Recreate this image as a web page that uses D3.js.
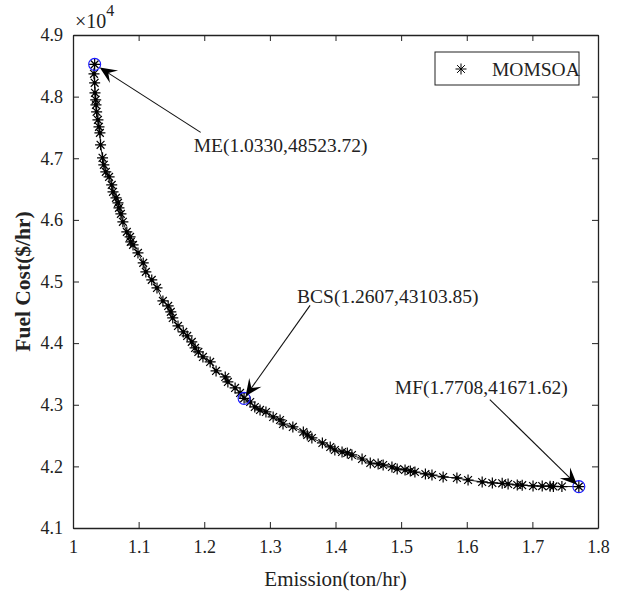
<!DOCTYPE html>
<html>
<head>
<meta charset="utf-8">
<script src="https://cdn.jsdelivr.net/npm/d3@7"></script>
<style>
  body { margin: 0; background: #fff; }
  svg { display: block; }
  text { font-family: "Liberation Serif", "Times New Roman", serif; fill: #222; }
</style>
</head>
<body>
<div id="chart"></div>
<script>
// pareto front of the MOMSOA run
var emission = [1.0330, 1.0320, 1.0330, 1.0335, 1.0346, 1.0350, 1.0360, 1.0380, 1.0396, 1.0410,
  1.0420, 1.0450, 1.0470, 1.0500, 1.0550, 1.0590, 1.0610, 1.0655, 1.0686, 1.0700,
  1.0730, 1.0760, 1.0820, 1.0870, 1.0880, 1.0915, 1.0990, 1.1070, 1.1110, 1.1200,
  1.1280, 1.1370, 1.1450, 1.1490, 1.1520, 1.1600, 1.1680, 1.1740, 1.1810, 1.1860,
  1.1910, 1.1980, 1.2090, 1.2180, 1.2320, 1.2360, 1.2470, 1.2546, 1.2607, 1.2700,
  1.2770, 1.2850, 1.2940, 1.3050, 1.3155, 1.3200, 1.3350, 1.3510, 1.3570, 1.3640,
  1.3800, 1.3920, 1.3990, 1.4100, 1.4180, 1.4250, 1.4405, 1.4530, 1.4650, 1.4726,
  1.4860, 1.4940, 1.5060, 1.5140, 1.5210, 1.5370, 1.5470, 1.5640, 1.5850, 1.6020,
  1.6235, 1.6390, 1.6540, 1.6630, 1.6770, 1.6845, 1.7010, 1.7150, 1.7270, 1.7320,
  1.7450, 1.7708];
var fuelCost = [48523.72, 48370, 48224, 48062, 47948, 47867, 47753, 47623, 47510, 47412,
  47218, 47007, 46893, 46779, 46698, 46568, 46455, 46357, 46276, 46195,
  46097, 45968, 45805, 45724, 45643, 45594, 45464, 45302, 45156, 45026,
  44896, 44685, 44604, 44507, 44409, 44279, 44182, 44117, 44020, 43922,
  43857, 43776, 43695, 43549, 43451, 43370, 43273, 43192, 43103.85, 43045,
  42964, 42916, 42883, 42802, 42753, 42688, 42640, 42558, 42510, 42461,
  42380, 42315, 42266, 42234, 42218, 42185, 42120, 42055, 42039, 42023,
  41990, 41958, 41942, 41925, 41909, 41877, 41860, 41828, 41812, 41779,
  41747, 41731, 41725, 41714, 41698, 41695, 41682, 41680, 41678, 41675,
  41673, 41671.62];

var xTicks = [1, 1.1, 1.2, 1.3, 1.4, 1.5, 1.6, 1.7, 1.8];
var yTicks = [41000, 42000, 43000, 44000, 45000, 46000, 47000, 48000, 49000];

var markNames = ['ME', 'BCS', 'MF'];
var markX = [1.0330, 1.2607, 1.7708];
var markY = [48523.72, 43103.85, 41671.62];

// label/arrow placement, pixel offsets from the marked point
var labelOff = [[99, 88], [53, -95], [-184, -93]];
var tailOff = [[106, 68], [66, -93], [-89, -87]];

var width = 622, height = 595;
var margin = { left: 73, right: 24, top: 35, bottom: 67 };

var svg = d3.select('#chart').append('svg')
  .attr('width', width)
  .attr('height', height);

var x = d3.scaleLinear().domain([1, 1.8]).range([margin.left, width - margin.right]);
var y = d3.scaleLinear().domain([41000, 49000]).range([height - margin.bottom, margin.top]);

var tickLen = 6;

// axes, MATLAB style ticks pointing in
var gx = svg.append('g')
  .attr('transform', 'translate(0,' + (height - margin.bottom) + ')')
  .call(d3.axisBottom(x).tickValues(xTicks).tickSizeInner(-tickLen).tickSizeOuter(0).tickPadding(12)
    .tickFormat(function(d) { return d3.format('')(+d.toFixed(1)); }));
var gy = svg.append('g')
  .attr('transform', 'translate(' + margin.left + ',0)')
  .call(d3.axisLeft(y).tickValues(yTicks).tickSizeInner(-tickLen).tickSizeOuter(0).tickPadding(10)
    .tickFormat(function(d) { return (d / 10000).toFixed(1); }));
var gt = svg.append('g')
  .attr('transform', 'translate(0,' + margin.top + ')')
  .call(d3.axisTop(x).tickValues(xTicks).tickSizeInner(-tickLen).tickSizeOuter(0).tickFormat(''));
var gr = svg.append('g')
  .attr('transform', 'translate(' + (width - margin.right) + ',0)')
  .call(d3.axisRight(y).tickValues(yTicks).tickSizeInner(-tickLen).tickSizeOuter(0).tickFormat(''));

[gx, gy, gt, gr].forEach(function(g) {
  g.select('.domain').attr('stroke', '#222').attr('stroke-width', 1.3);
  g.selectAll('.tick line').attr('stroke', '#222');
  g.selectAll('.tick text')
    .style('font-family', '"Liberation Serif", serif')
    .style('font-size', '18px')
    .attr('fill', '#333');
});

// exponent
var ex = svg.append('text')
  .attr('x', margin.left + 2)
  .attr('y', 28)
  .style('font-size', '20px')
  .attr('fill', '#333');
ex.append('tspan').text('\u00d710');
ex.append('tspan').attr('dy', -12).style('font-size', '16px').text('4');

// axis labels
svg.append('text')
  .attr('x', (margin.left + width - margin.right) / 2)
  .attr('y', 586)
  .attr('text-anchor', 'middle')
  .style('font-size', '21px')
  .attr('fill', '#333')
  .text('Emission(ton/hr)');

svg.append('text')
  .attr('transform', 'translate(30,' + ((margin.top + height - margin.bottom) / 2) + ') rotate(-90)')
  .attr('text-anchor', 'middle')
  .style('font-size', '21.5px')
  .style('font-weight', 'bold')
  .attr('fill', '#333')
  .text('Fuel Cost($/hr)');

// connecting line and asterisk markers
var pts = emission.map(function(e, i) { return [x(e), y(fuelCost[i])]; });

svg.append('path')
  .attr('d', d3.line()(pts))
  .attr('fill', 'none')
  .attr('stroke', '#000')
  .attr('stroke-width', 0.9);

var star = 'M-5.5,0L5.5,0M0,-5.5L0,5.5M-3.9,-3.9L3.9,3.9M-3.9,3.9L3.9,-3.9';

svg.append('g').selectAll('g')
  .data(pts)
  .enter()
  .append('g')
  .attr('transform', function(d) { return 'translate(' + d[0] + ',' + d[1] + ')'; })
  .each(function() {
    var g = d3.select(this);
    g.append('path').attr('d', star).attr('stroke', '#000').attr('stroke-width', 1.2).attr('fill', 'none');
    g.append('circle').attr('r', 1.8).attr('fill', '#000');
  });

// highlighted solutions
markNames.forEach(function(name, i) {
  var px = x(markX[i]), py = y(markY[i]);
  svg.append('circle')
    .attr('cx', px).attr('cy', py).attr('r', 6)
    .attr('fill', 'none').attr('stroke', '#1a1aff').attr('stroke-width', 1.1);

  var tx = px + tailOff[i][0], ty = py + tailOff[i][1];
  var ang = Math.atan2(py - ty, px - tx);
  var dist = Math.hypot(px - tx, py - ty);
  var gap = i === 0 ? 6 : 2.5;
  var hx = tx + Math.cos(ang) * (dist - gap), hy = ty + Math.sin(ang) * (dist - gap);
  var L = 17, W = 7.5;

  svg.append('line')
    .attr('x1', tx).attr('y1', ty)
    .attr('x2', hx - Math.cos(ang) * 8).attr('y2', hy - Math.sin(ang) * 8)
    .attr('stroke', '#111').attr('stroke-width', 1.1);

  svg.append('path')
    .attr('transform', 'translate(' + hx + ',' + hy + ') rotate(' + (ang * 180 / Math.PI) + ')')
    .attr('d', 'M0,0L' + (-L) + ',' + (-W) + 'L' + (-L * 0.6) + ',0L' + (-L) + ',' + W + 'Z')
    .attr('fill', '#000');

  svg.append('text')
    .attr('x', px + labelOff[i][0])
    .attr('y', py + labelOff[i][1])
    .style('font-size', '19.5px')
    .attr('fill', '#222')
    .text(name + '(' + markX[i].toFixed(4) + ',' + markY[i].toFixed(2) + ')');
});

// legend
var lg = svg.append('g').attr('transform', 'translate(435,52)');
lg.append('rect')
  .attr('width', 144).attr('height', 33)
  .attr('fill', '#fff').attr('stroke', '#222').attr('stroke-width', 1);
lg.append('path')
  .attr('transform', 'translate(26,17)')
  .attr('d', star).attr('stroke', '#000').attr('stroke-width', 1).attr('fill', 'none');
lg.append('text')
  .attr('x', 57).attr('y', 24)
  .style('font-size', '19.5px')
  .attr('fill', '#222')
  .text('MOMSOA');
</script>
</body>
</html>
